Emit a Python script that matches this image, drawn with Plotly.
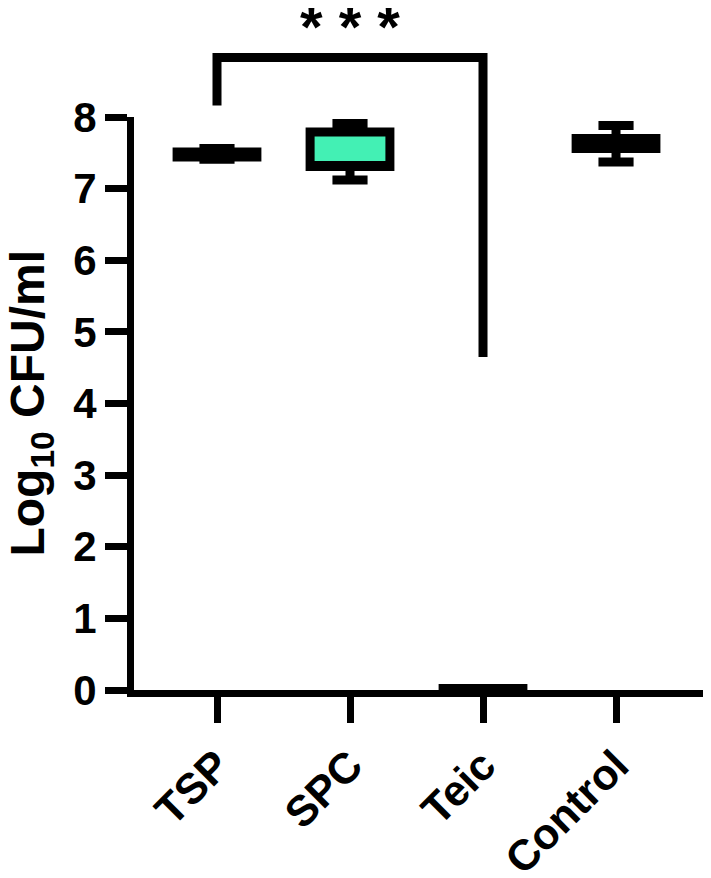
import plotly.graph_objects as go

# box statistics (log10 CFU/ml)
groups = ["TSP", "SPC", "Teic", "Control"]
q1 = [7.44, 7.31, 0.0, 7.56]
median = [7.46, 7.32, 0.0, 7.62]
q3 = [7.51, 7.79, 0.02, 7.70]
lower = [7.41, 7.12, 0.0, 7.37]
upper = [7.56, 7.91, 0.02, 7.88]
fills = ["black", "#43F0B4", "black", "black"]

y_ticks = [0, 1, 2, 3, 4, 5, 6, 7, 8]

# significance bracket TSP vs Teic
bracket_from = 0
bracket_to = 2
bracket_top = 8.83
bracket_left_end = 8.16
bracket_right_end = 4.65
stars_y = 9.27

X_RANGE = [-0.624, 3.669]
Y_RANGE = [0, 8]
FONT = "Liberation Sans, Arial, sans-serif"

fig = go.Figure()

for i, g in enumerate(groups):
    fig.add_trace(go.Box(
        x=[g],
        q1=[q1[i]], median=[median[i]], q3=[q3[i]],
        lowerfence=[lower[i]], upperfence=[upper[i]],
        width=0.6,
        whiskerwidth=0.44,
        fillcolor=fills[i],
        line=dict(color="black", width=9),
        showlegend=False,
        hoverinfo="skip",
    ))


def py(v):
    # data y -> paper y so the bracket is not clipped above the plot
    return (v - Y_RANGE[0]) / (Y_RANGE[1] - Y_RANGE[0])


fig.add_shape(
    type="path",
    xref="x", yref="paper",
    path=(f"M {bracket_from} {py(bracket_left_end)} L {bracket_from} {py(bracket_top)} "
          f"L {bracket_to} {py(bracket_top)} L {bracket_to} {py(bracket_right_end)}"),
    line=dict(color="black", width=9),
)

fig.add_annotation(
    x=(bracket_from + bracket_to) / 2, y=py(stars_y),
    xref="x", yref="paper",
    xanchor="center", yanchor="middle",
    text="* * *", showarrow=False,
    font=dict(family=FONT, size=58, color="black", weight=700),
)

# y title as a rotated annotation so it can sit closer to the page edge
fig.add_annotation(
    x=-0.182, y=0.5, xref="paper", yref="paper",
    xanchor="center", yanchor="middle",
    text="Log<sub>10</sub> CFU/ml", textangle=-90, showarrow=False,
    font=dict(family=FONT, size=48, color="black", weight=700),
)

# the page body has an 8px margin, so the figure is 8px smaller than the window
fig.update_layout(
    width=703, height=870,
    margin=dict(l=126, r=6, t=109, b=188),
    plot_bgcolor="white", paper_bgcolor="white",
    font=dict(family=FONT, color="black", weight=700),
    xaxis=dict(
        type="category",
        categoryorder="array", categoryarray=groups,
        range=X_RANGE,
        automargin=False,
        showline=True, linecolor="black", linewidth=7,
        ticks="outside", ticklen=26, tickwidth=7, tickcolor="black",
        tickangle=-45,
        tickfont=dict(family=FONT, size=43, color="black", weight=700),
        showgrid=False, zeroline=False,
    ),
    yaxis=dict(
        range=Y_RANGE,
        tickvals=y_ticks,
        automargin=False,
        showline=True, linecolor="black", linewidth=7,
        ticks="outside", ticklen=22, tickwidth=7, tickcolor="black",
        tickfont=dict(family=FONT, size=42, color="black", weight=700),
        showgrid=False, zeroline=False,
    ),
)

fig.write_html("out.html")
